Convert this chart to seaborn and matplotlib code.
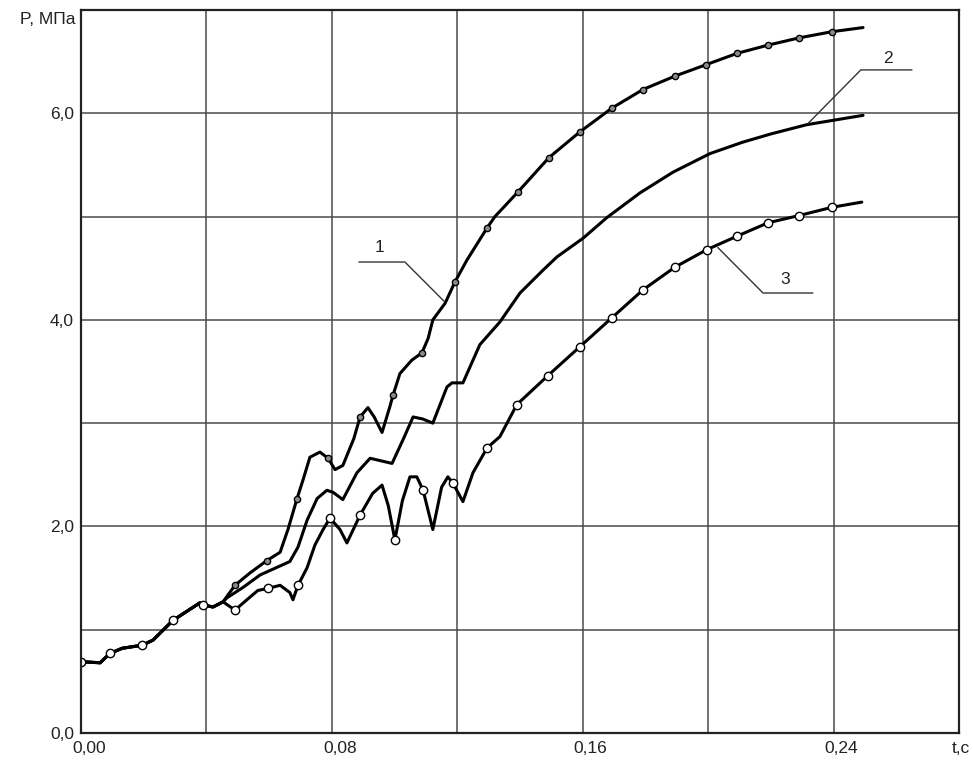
import numpy as np
import matplotlib
matplotlib.use("Agg")
import matplotlib.pyplot as plt
import matplotlib.transforms as mtransforms
import seaborn as sns

# common starting part of all three curves (t, s / P, MPa)
t_start = [0.0, 0.0061, 0.0092, 0.0131, 0.0195, 0.0230, 0.0293, 0.0379, 0.0389, 0.0421, 0.0453]
p_start = [0.69, 0.68, 0.77, 0.82, 0.85, 0.90, 1.09, 1.26, 1.24, 1.22, 1.27]

# curve 1 (upper)
t1 = [0.0491, 0.0539, 0.0593, 0.0635, 0.0660, 0.0689, 0.0708, 0.0730, 0.0762, 0.0788,
      0.0810, 0.0835, 0.0870, 0.0890, 0.0915, 0.0935, 0.0960, 0.0985, 0.0995, 0.1017,
      0.1055, 0.1087, 0.1107, 0.1122, 0.1161, 0.1193, 0.1231, 0.1295, 0.1320, 0.1394,
      0.1492, 0.1591, 0.1693, 0.1792, 0.1894, 0.1993, 0.2092, 0.2191, 0.2290, 0.2395,
      0.2494]
p1 = [1.43, 1.55, 1.67, 1.75, 1.97, 2.27, 2.45, 2.67, 2.72, 2.66,
      2.55, 2.59, 2.85, 3.06, 3.15, 3.06, 2.91, 3.16, 3.27, 3.48,
      3.61, 3.68, 3.82, 4.00, 4.16, 4.37, 4.58, 4.89, 5.00, 5.24,
      5.57, 5.82, 6.05, 6.23, 6.36, 6.47, 6.58, 6.66, 6.73, 6.79,
      6.83]
m1 = [0.0491, 0.0593, 0.0689, 0.0788, 0.0890, 0.0995, 0.1087, 0.1193, 0.1295, 0.1394,
      0.1492, 0.1591, 0.1693, 0.1792, 0.1894, 0.1993, 0.2092, 0.2191, 0.2290, 0.2395]

# curve 2 (middle)
t2 = [0.0466, 0.0517, 0.0571, 0.0666, 0.0692, 0.0721, 0.0753, 0.0784, 0.0804, 0.0835,
      0.0880, 0.0922, 0.0992, 0.1030, 0.1059, 0.1090, 0.1122, 0.1167, 0.1183, 0.1218,
      0.1272, 0.1336, 0.1400, 0.1473, 0.1518, 0.1601, 0.1677, 0.1783, 0.1888, 0.2006,
      0.2110, 0.2200, 0.2315, 0.2494]
p2 = [1.31, 1.41, 1.53, 1.66, 1.80, 2.06, 2.27, 2.35, 2.33, 2.26,
      2.52, 2.66, 2.61, 2.86, 3.06, 3.04, 3.00, 3.35, 3.39, 3.39,
      3.76, 3.98, 4.26, 4.48, 4.61, 4.79, 4.99, 5.23, 5.43, 5.61,
      5.72, 5.80, 5.89, 5.98]

# curve 3 (lower)
t3 = [0.0491, 0.0529, 0.0564, 0.0596, 0.0635, 0.0666, 0.0676, 0.0692, 0.0721, 0.0746,
      0.0772, 0.0794, 0.0826, 0.0848, 0.0890, 0.0930, 0.0960, 0.0980, 0.1001, 0.1025,
      0.1049, 0.1071, 0.1091, 0.1122, 0.1150, 0.1170, 0.1186, 0.1218, 0.1250, 0.1295,
      0.1336, 0.1390, 0.1489, 0.1591, 0.1693, 0.1792, 0.1894, 0.1996, 0.2092, 0.2191,
      0.2290, 0.2395, 0.2490]
p3 = [1.19, 1.29, 1.38, 1.40, 1.43, 1.36, 1.29, 1.43, 1.60, 1.82,
      1.97, 2.08, 1.97, 1.84, 2.11, 2.32, 2.40, 2.20, 1.87, 2.25,
      2.48, 2.48, 2.35, 1.97, 2.38, 2.48, 2.42, 2.24, 2.52, 2.76,
      2.87, 3.18, 3.46, 3.74, 4.02, 4.29, 4.51, 4.68, 4.81, 4.94,
      5.01, 5.09, 5.14]
m3 = [0.0, 0.0092, 0.0195, 0.0293, 0.0389, 0.0491, 0.0596, 0.0692, 0.0794, 0.0890,
      0.1001, 0.1091, 0.1186, 0.1295, 0.1390, 0.1489, 0.1591, 0.1693, 0.1792, 0.1894,
      0.1996, 0.2092, 0.2191, 0.2290, 0.2395]

x_ticks = [0.0, 0.08, 0.16, 0.24, 0.28]
x_labels = ["0,00", "0,08", "0,16", "0,24", "t,c"]
y_ticks = [0.0, 2.0, 4.0, 6.0]
y_labels = ["0,0", "2,0", "4,0", "6,0"]

sns.set_style("white")
plt.rcParams["font.family"] = ["Liberation Sans", "DejaVu Sans"]

fig = plt.figure(figsize=(9.73, 7.61), dpi=100)
ax = fig.add_axes([81 / 973, 28 / 761, 878 / 973, 723 / 761])

curves = [
    (t_start + t1, p_start + p1, m1, 4.5, "#8a8a8a"),
    (t_start + t2, p_start + p2, [], 0, "w"),
    (t_start + t3, p_start + p3, m3, 6.0, "white"),
]
for t, p, marks, ms, fc in curves:
    t = np.array(t)
    mask = np.isin(t, marks)
    if mask.any():
        sns.lineplot(x=t, y=p, ax=ax, estimator=None, sort=False, color="black", lw=2.2,
                     marker="o", markevery=list(mask), markersize=ms,
                     markerfacecolor=fc, markeredgecolor="black", markeredgewidth=1.0)
    else:
        sns.lineplot(x=t, y=p, ax=ax, estimator=None, sort=False, color="black", lw=2.2)

ax.set_xlim(0, 0.28)
ax.set_ylim(0, 7.0)
ax.set_xticks(x_ticks)
ax.set_xticklabels(x_labels)
ax.set_yticks(y_ticks)
ax.set_yticklabels(y_labels)
ax.set_xticks(np.arange(0.04, 0.28, 0.04), minor=True)
ax.set_yticks(np.arange(1.0, 7.0, 1.0), minor=True)
ax.tick_params(which="both", length=0, labelsize=12.5, colors="#222222")
ax.tick_params(axis="x", pad=6)
ax.tick_params(axis="y", pad=5)
ax.grid(which="both", color="#4a4a4a", lw=1.1)
ax.set_axisbelow(True)
for s in ax.spines.values():
    s.set_color("#222222")
    s.set_linewidth(1.6)
ax.set_xlabel("")
ax.set_ylabel("")

# shift the x tick labels a little to the right, as in the original
xlabs = ax.get_xticklabels()
for lab in xlabs[:-1]:
    lab.set_transform(lab.get_transform() + mtransforms.ScaledTranslation(8 / 100, 0, fig.dpi_scale_trans))
xlabs[-1].set_transform(xlabs[-1].get_transform() + mtransforms.ScaledTranslation(2 / 100, 0, fig.dpi_scale_trans))

ax.annotate("P, МПа", xy=(0, 7.0), xycoords="data", xytext=(-5, -10),
            textcoords="offset pixels", ha="right", va="center", fontsize=12.5,
            color="#222222", annotation_clip=False)

# curve labels with leader lines
leaders = [
    ([0.0886, 0.1033, 0.1158], [4.56, 4.56, 4.18], "1", (0.0953, 4.70)),
    ([0.2318, 0.2487, 0.2650], [5.90, 6.42, 6.42], "2", (0.2573, 6.53)),
    ([0.2031, 0.2175, 0.2334], [4.70, 4.26, 4.26], "3", (0.2245, 4.39)),
]
for lx, ly, txt, pos in leaders:
    ax.plot(lx, ly, color="#333333", lw=1.0)
    ax.text(pos[0], pos[1], txt, ha="center", va="center", fontsize=12.5, color="#222222")

plt.savefig("out.png", dpi=100)
